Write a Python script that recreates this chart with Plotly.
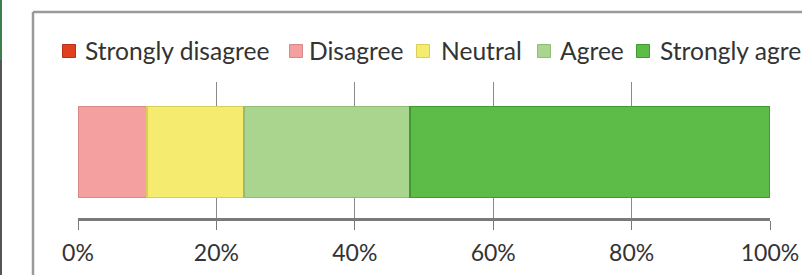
import plotly.graph_objects as go

categories = ["Responses"]
series_names = ["Strongly disagree", "Disagree", "Neutral", "Agree", "Strongly agree"]
series_values = [0, 10, 14, 24, 52]
series_colors = ["#E0401F", "#F4A0A0", "#F5EB6E", "#AAD58F", "#5DBB47"]
series_lines = ["#B83018", "#D88888", "#D8CF5A", "#90BC76", "#3F9A33"]
tick_values = [0, 20, 40, 60, 80, 100]
tick_labels = ["0%", "20%", "40%", "60%", "80%", "100%"]

W, H = 802, 275
L, R, T, B = 78, 32, 82, 57
PW, PH = W - L - R, H - T - B

# legend layout (pixel positions of each entry's marker center and text start)
legend_marker_cx = [69, 296, 423, 544, 643]
legend_text_x = [82.5, 306.5, 438.5, 557.5, 657.5]
legend_y = 51


def px_x(x):
    return (x - L) / PW


def px_y(y):
    return 1 - (y - T) / PH


fig = go.Figure()
for name, val, col, lc in zip(series_names, series_values, series_colors, series_lines):
    fig.add_trace(go.Bar(
        y=categories, x=[val], name=name, orientation="h",
        marker=dict(color=col, line=dict(color=lc, width=1.5)),
        showlegend=False,
    ))

shapes = [
    dict(type="line", xref="paper", yref="paper",
         x0=px_x(33), x1=px_x(33), y0=px_y(290), y1=px_y(12),
         line=dict(color="#9a9a9a", width=2.5)),
    dict(type="line", xref="paper", yref="paper",
         x0=px_x(33), x1=px_x(810), y0=px_y(12), y1=px_y(12),
         line=dict(color="#9a9a9a", width=2.5)),
    dict(type="line", xref="paper", yref="paper",
         x0=px_x(1), x1=px_x(1), y0=px_y(290), y1=px_y(60),
         line=dict(color="#555555", width=2)),
    dict(type="line", xref="paper", yref="paper",
         x0=px_x(1), x1=px_x(1), y0=px_y(60), y1=px_y(-10),
         line=dict(color="#3f7f4f", width=2)),
]
annotations = []
for name, col, lc, cx, tx in zip(series_names, series_colors, series_lines,
                                 legend_marker_cx, legend_text_x):
    shapes.append(dict(type="rect", xref="paper", yref="paper",
                       x0=px_x(cx - 6.5), x1=px_x(cx + 6.5),
                       y0=px_y(legend_y + 6.5), y1=px_y(legend_y - 6.5),
                       fillcolor=col, line=dict(color=lc, width=1)))
    annotations.append(dict(text=name, xref="paper", yref="paper",
                            x=px_x(tx), y=px_y(legend_y), xanchor="left",
                            yanchor="middle", showarrow=False,
                            font=dict(family="Lato", size=24.6, color="#333333")))

fig.update_layout(
    width=W, height=H,
    margin=dict(l=L, r=R, t=T, b=B, autoexpand=False),
    barmode="stack", bargap=0.33,
    plot_bgcolor="white", paper_bgcolor="white",
    font=dict(family="Lato", size=23, color="#333333"),
    showlegend=False,
    xaxis=dict(
        range=[0, 100], tickvals=tick_values, ticktext=tick_labels,
        showgrid=True, gridcolor="#8a8a8a", gridwidth=1,
        showline=True, linecolor="#7a7a7a", linewidth=3,
        ticks="outside", ticklen=9, tickcolor="#7a7a7a", tickwidth=1,
        ticklabelstandoff=3,
        zeroline=False, fixedrange=True,
        tickfont=dict(family="Lato", size=23, color="#333333"),
    ),
    yaxis=dict(showticklabels=False, showgrid=False, zeroline=False,
               showline=False, range=[-0.485, 0.515], fixedrange=True),
    shapes=shapes,
    annotations=annotations,
)

fig.write_html("out.html", config={"displayModeBar": False},
               post_script="document.body.style.margin='0';")
